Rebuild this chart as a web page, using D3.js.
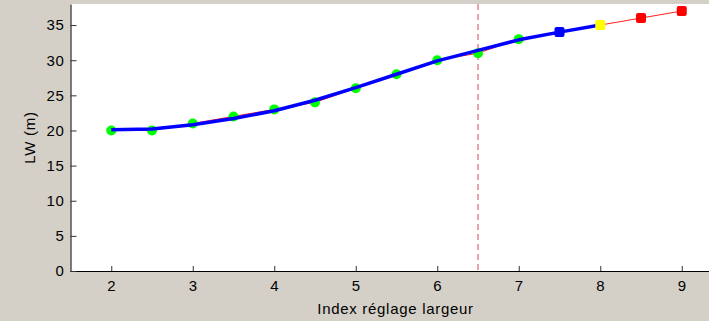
<!DOCTYPE html>
<html>
<head>
<meta charset="utf-8">
<script src="https://cdn.jsdelivr.net/npm/d3@7"></script>
<style>
  html, body { margin: 0; padding: 0; background: #d4d0c8; }
  svg { display: block; }
</style>
</head>
<body>
<div id="chart"></div>
<script>
// measured points
const idxGreen = [2, 2.5, 3, 3.5, 4, 4.5, 5, 5.5, 6, 6.5, 7];
const lwGreen = [20, 20, 21, 22, 23, 24, 26, 28, 30, 31, 33];
const idxBlue = [7.5];
const lwBlue = [34];
const idxYellow = [8];
const lwYellow = [35];
const idxRed = [8.5, 9];
const lwRed = [36, 37];

// smoothed fit (blue thick line)
const fitIdx = [2, 2.5, 3, 3.5, 4, 4.5, 5, 5.5, 6, 6.5, 7, 7.5, 8];
const fitLw = [20.1, 20.2, 20.8, 21.7, 22.8, 24.3, 26.1, 28.0, 29.9, 31.4, 32.9, 34.0, 35.0];

const xTicks = [2, 3, 4, 5, 6, 7, 8, 9];
const yTicks = [0, 5, 10, 15, 20, 25, 30, 35];
const cutIdx = 6.5;

const width = 709;
const height = 321;

const x = d3.scaleLinear().domain([1.5, 9.5]).range([70.5, 722.5]);
const y = d3.scaleLinear().domain([0, 38]).range([271, 4]);

const svg = d3
  .select("#chart")
  .append("svg")
  .attr("width", width)
  .attr("height", height)
  .style("font-family", "'Liberation Sans', Arial, sans-serif")
  .style("letter-spacing", "0.7px");

svg.append("rect").attr("width", width).attr("height", height).attr("fill", "#d4d0c8");

// axes area
svg
  .append("rect")
  .attr("x", x(1.5))
  .attr("y", y(38))
  .attr("width", width - x(1.5))
  .attr("height", y(0) - y(38))
  .attr("fill", "#fff");

const all = [];
[[idxGreen, lwGreen], [idxBlue, lwBlue], [idxYellow, lwYellow], [idxRed, lwRed]].forEach(([a, b]) => {
  a.forEach((v, i) => all.push([v, b[i]]));
});
all.sort((p, q) => p[0] - q[0]);

// x axis
const xAxis = svg
  .append("g")
  .attr("transform", `translate(0,${y(0)})`)
  .call(d3.axisBottom(x).tickValues(xTicks).tickSizeInner(-5).tickSizeOuter(0).tickPadding(9));
xAxis.select(".domain").attr("stroke", "#000").attr("d", `M${x(1.5)},0.5H${width}`);
xAxis.selectAll(".tick line").attr("stroke", "#333");
xAxis.selectAll("text").attr("font-size", 15).attr("fill", "#000");

// y axis
const yAxis = svg
  .append("g")
  .attr("transform", `translate(${x(1.5)},0)`)
  .call(d3.axisLeft(y).tickValues(yTicks).tickSizeInner(-6).tickSizeOuter(0).tickPadding(6));
yAxis.select(".domain").attr("stroke", "#000");
yAxis.selectAll(".tick line").attr("stroke", "#333");
yAxis.selectAll("text").attr("font-size", 15).attr("fill", "#000");

svg
  .append("text")
  .attr("x", (x(2) + x(9)) / 2 - 1)
  .attr("y", 314)
  .attr("text-anchor", "middle")
  .attr("font-size", 15)
  .text("Index réglage largeur");

svg
  .append("text")
  .attr("transform", `translate(35,${y(19)}) rotate(-90)`)
  .attr("text-anchor", "middle")
  .attr("font-size", 15)
  .text("LW (m)");

// dashed cut line
svg
  .append("line")
  .attr("x1", x(cutIdx))
  .attr("x2", x(cutIdx))
  .attr("y1", y(38))
  .attr("y2", y(0))
  .attr("stroke", "#d84452")
  .attr("stroke-width", 1)
  .attr("stroke-dasharray", "6,4");

const line = d3.line().x((d) => x(d[0])).y((d) => y(d[1]));

// thin red data line
svg.append("path").datum(all).attr("d", line).attr("fill", "none").attr("stroke", "#ff2020").attr("stroke-width", 1);

// green markers
svg
  .append("g")
  .selectAll("circle")
  .data(idxGreen.map((v, i) => [v, lwGreen[i]]))
  .join("circle")
  .attr("cx", (d) => x(d[0]))
  .attr("cy", (d) => y(d[1]))
  .attr("r", 5)
  .attr("fill", "#00ff00");

// blue fit
svg
  .append("path")
  .datum(fitIdx.map((v, i) => [v, fitLw[i]]))
  .attr("d", line)
  .attr("fill", "none")
  .attr("stroke", "#0000ff")
  .attr("stroke-width", 3.5)
  .attr("stroke-linejoin", "round");

const square = (data, color) => {
  svg
    .append("g")
    .selectAll("rect")
    .data(data)
    .join("rect")
    .attr("x", (d) => x(d[0]) - 5)
    .attr("y", (d) => y(d[1]) - 5)
    .attr("width", 10)
    .attr("height", 10)
    .attr("rx", 2)
    .attr("fill", color);
};

square(idxBlue.map((v, i) => [v, lwBlue[i]]), "#0000ff");
square(idxYellow.map((v, i) => [v, lwYellow[i]]), "#ffff00");
square(idxRed.map((v, i) => [v, lwRed[i]]), "#ff0000");
</script>
</body>
</html>
